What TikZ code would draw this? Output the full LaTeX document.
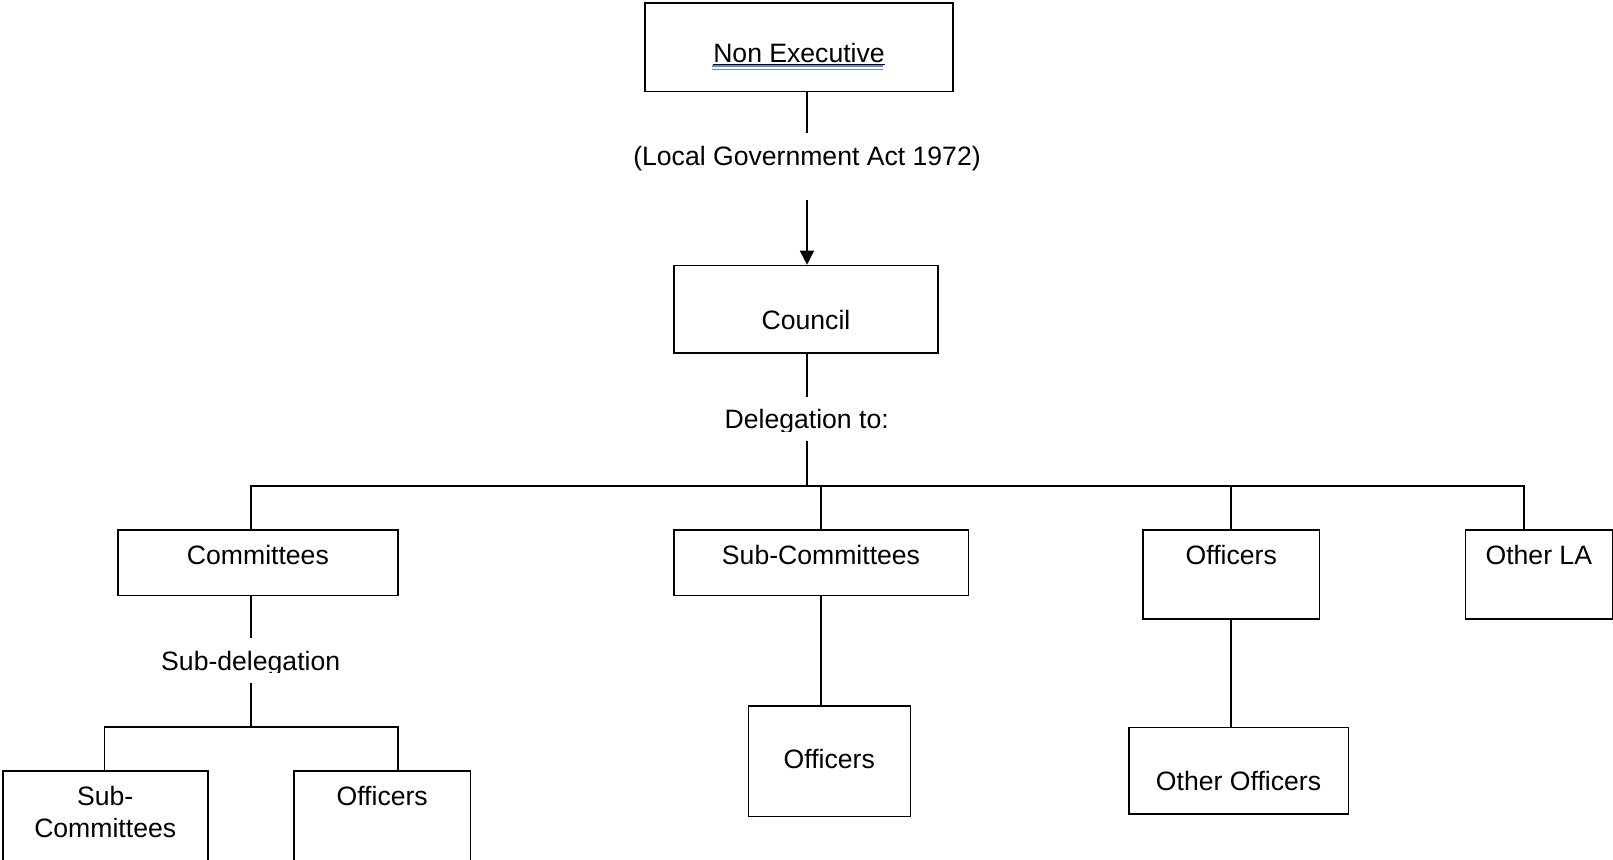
\documentclass[tikz,border=0pt]{standalone}
\usepackage{fontspec}
\setmainfont{Liberation Sans}
\usetikzlibrary{arrows.meta}
\newcommand\chartfont{\fontsize{26.6}{31.7}\selectfont}
\definecolor{spellblue}{HTML}{5B8BDA}
\tikzset{
  box/.style={draw, line width=1.6pt, inner sep=0pt, anchor=north, align=center, font=\chartfont},
  lbl/.style={inner sep=0pt, anchor=north, font=\chartfont},
  link/.style={line width=1.6pt},
}
\begin{document}
\begin{tikzpicture}[x=1pt, y=-1pt]
  \useasboundingbox (0,0) rectangle (1613,859);
  % top of the chart
  \node[box, minimum width=308pt, text height=60pt, text depth=28.7pt] (nonexec) at (799,2) {\underline{Non Executive}};
  \draw[spellblue, line width=1pt] (711.7,66) -- (883.3,66) (711.7,69.3) -- (883.3,69.3);
  \node[lbl, text height=32.7pt, text depth=34.3pt] (act) at (807,133) {(Local Government Act 1972)};
  \node[box, minimum width=263.7pt, text height=64.3pt, text depth=23.3pt] (council) at (806,264.7) {Council};
  \begin{scope}
    \clip (700,390) rectangle (920,431.7);
    \node[lbl, text height=31.3pt, text depth=12.4pt] (deleg) at (806.7,397) {Delegation to:};
  \end{scope}
  % delegates
  \node[box, minimum width=279.7pt, text height=34pt, text depth=31.4pt] (com) at (257.9,529.3) {Committees};
  \node[box, minimum width=294.6pt, text height=34pt, text depth=31.4pt] (subc) at (821,529.3) {Sub-Committees};
  \node[box, minimum width=176.3pt, text height=34pt, text depth=54.7pt] (off) at (1231.2,529.3) {Officers};
  \node[box, minimum width=147pt, text height=34pt, text depth=54.7pt] (ola) at (1538.8,529.3) {Other LA};
  \begin{scope}
    \clip (140,630) rectangle (360,672.5);
    \node[lbl, text height=32pt, text depth=13pt] (subdel) at (250.7,638) {Sub-delegation};
  \end{scope}
  % lowest row
  \node[box, minimum width=205pt, text height=66.7pt, text depth=60pt] (ssub) at (105.2,770) {Sub-\\Committees};
  \node[box, minimum width=176.3pt, text height=35pt, text depth=100pt] (soff) at (382.2,770) {Officers};
  \node[box, minimum width=162pt, text height=62.7pt, text depth=48pt] (moff) at (829.3,705) {Officers};
  \node[box, minimum width=219.6pt, text height=62.6pt, text depth=24pt] (ooff) at (1238.5,726.7) {Other Officers};
  % joints
  \coordinate (jc) at (806.7,486);
  \coordinate (jl) at (250.7,486);
  \coordinate (jr) at (1524,486);
  \coordinate (sj) at (250.7,726.7);
  \coordinate (sl) at (104.3,726.7);
  \coordinate (sr) at (397.7,726.7);
  % connectors
  \draw[link] (nonexec.south -| act.north) -- (act.north);
  \draw[link, -{Triangle[length=14pt, width=14pt]}] (act.south) -- (act.south |- council.north);
  \draw[link] (council.south -| deleg.north) -- (deleg.north);
  \draw[link] (deleg.south) -- (jc);
  \draw[link] (com.north -| jl) -- (jl) -- (jr) -- (ola.north -| jr);
  \draw[link] (subc.north) -- (subc.north |- jc);
  \draw[link] (off.north) -- (off.north |- jc);
  \draw[link] (com.south -| subdel.north) -- (subdel.north);
  \draw[link] (subdel.south) -- (sj);
  \draw[link] (ssub.north -| sl) -- (sl) -- (sr) -- (soff.north -| sr);
  \draw[link] (subc.south) -- (subc.south |- moff.north);
  \draw[link] (off.south) -- (off.south |- ooff.north);
\end{tikzpicture}
\end{document}
